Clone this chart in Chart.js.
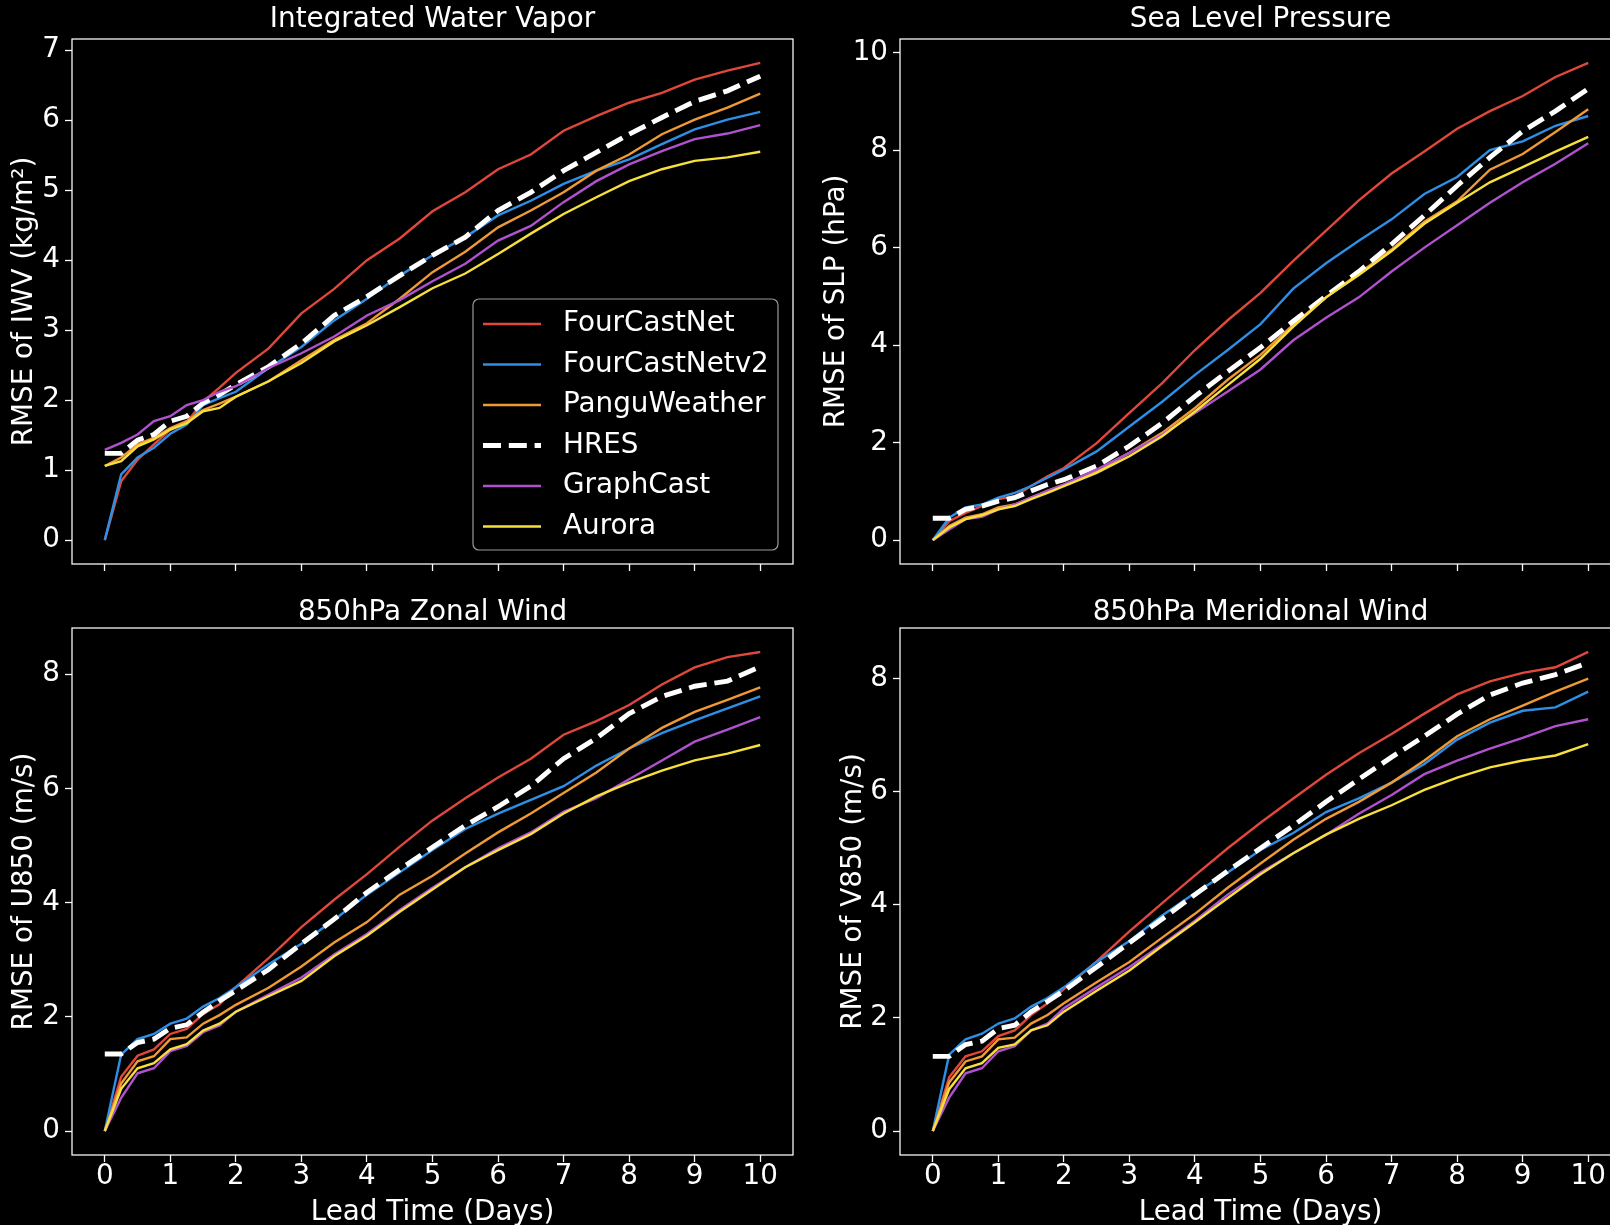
<!DOCTYPE html>
<html>
<head>
<meta charset="utf-8">
<title>RMSE vs lead time</title>
<script src="https://cdn.jsdelivr.net/npm/chart.js@4.4.1/dist/chart.umd.min.js"></script>
<style>
  html, body { margin: 0; padding: 0; background: #000; }
  body { width: 1610px; height: 1225px; position: relative; overflow: hidden; }
  canvas { position: absolute; }
</style>
</head>
<body>
<canvas id="iwv" width="805" height="600" style="left:0;top:0"></canvas>
<canvas id="slp" width="830" height="600" style="left:805px;top:0"></canvas>
<canvas id="u850" width="805" height="645" style="left:0;top:580px"></canvas>
<canvas id="v850" width="830" height="645" style="left:805px;top:580px"></canvas>
<script>
// lead time in days (6-hourly for the first two days, then 12-hourly)
const days = [0, 0.25, 0.5, 0.75, 1, 1.25, 1.5, 1.75, 2, 2.5, 3, 3.5, 4, 4.5, 5, 5.5, 6, 6.5, 7, 7.5, 8, 8.5, 9, 9.5, 10];
const models = ["FourCastNet", "FourCastNetv2", "PanguWeather", "HRES", "GraphCast", "Aurora"];
const modelColors = ["#e0483b", "#2d8fe6", "#f09a35", "#ffffff", "#b052cf", "#f7df3c"];
const xTicks = [0, 1, 2, 3, 4, 5, 6, 7, 8, 9, 10];
const iwvTicks = [0, 1, 2, 3, 4, 5, 6, 7];
const slpTicks = [0, 2, 4, 6, 8, 10];
const windTicks = [0, 2, 4, 6, 8];

// Integrated Water Vapor (kg/m2)
const iwvFcn   = [0, 0.84, 1.15, 1.37, 1.58, 1.68, 1.98, 2.18, 2.39, 2.74, 3.24, 3.59, 4.00, 4.31, 4.70, 4.97, 5.30, 5.51, 5.85, 6.06, 6.25, 6.39, 6.58, 6.71, 6.82];
const iwvFcn2  = [0, 0.94, 1.18, 1.32, 1.52, 1.65, 1.93, 2.03, 2.12, 2.46, 2.76, 3.14, 3.45, 3.78, 4.07, 4.33, 4.64, 4.85, 5.09, 5.28, 5.44, 5.66, 5.87, 6.01, 6.12];
const iwvPangu = [1.06, 1.18, 1.37, 1.46, 1.60, 1.70, 1.86, 1.95, 2.05, 2.27, 2.57, 2.86, 3.10, 3.45, 3.83, 4.12, 4.47, 4.71, 4.97, 5.28, 5.51, 5.80, 6.01, 6.18, 6.38];
const iwvHres  = [1.24, 1.24, 1.43, 1.51, 1.70, 1.77, 1.96, 2.08, 2.22, 2.48, 2.81, 3.21, 3.48, 3.78, 4.07, 4.33, 4.71, 4.97, 5.28, 5.54, 5.80, 6.04, 6.27, 6.42, 6.63];
const iwvGc    = [1.29, 1.39, 1.51, 1.70, 1.77, 1.93, 2.00, 2.12, 2.20, 2.46, 2.67, 2.91, 3.21, 3.43, 3.70, 3.95, 4.28, 4.49, 4.83, 5.13, 5.37, 5.56, 5.73, 5.81, 5.93];
const iwvAur   = [1.06, 1.13, 1.34, 1.44, 1.58, 1.67, 1.84, 1.89, 2.05, 2.27, 2.53, 2.84, 3.07, 3.33, 3.60, 3.81, 4.09, 4.38, 4.66, 4.90, 5.13, 5.30, 5.42, 5.47, 5.55];

// Sea Level Pressure (hPa)
const slpFcn   = [0, 0.39, 0.56, 0.70, 0.84, 0.90, 1.11, 1.31, 1.48, 1.99, 2.61, 3.22, 3.90, 4.51, 5.07, 5.73, 6.35, 6.97, 7.52, 7.97, 8.44, 8.80, 9.11, 9.50, 9.79];
const slpFcn2  = [0, 0.46, 0.67, 0.73, 0.87, 0.97, 1.11, 1.28, 1.45, 1.82, 2.33, 2.84, 3.39, 3.90, 4.43, 5.16, 5.68, 6.14, 6.58, 7.10, 7.45, 8.00, 8.18, 8.50, 8.70];
const slpPangu = [0, 0.29, 0.46, 0.53, 0.67, 0.73, 0.87, 1.01, 1.14, 1.41, 1.79, 2.20, 2.71, 3.29, 3.80, 4.42, 4.98, 5.47, 5.96, 6.53, 6.95, 7.60, 7.92, 8.37, 8.84];
const slpHres  = [0.45, 0.45, 0.63, 0.70, 0.80, 0.87, 1.01, 1.14, 1.24, 1.52, 1.93, 2.40, 2.95, 3.46, 3.95, 4.49, 5.01, 5.51, 6.07, 6.66, 7.27, 7.85, 8.39, 8.80, 9.26];
const slpGc    = [0, 0.22, 0.43, 0.48, 0.63, 0.73, 0.87, 1.01, 1.14, 1.45, 1.79, 2.16, 2.61, 3.05, 3.50, 4.10, 4.56, 4.98, 5.51, 6.00, 6.46, 6.92, 7.34, 7.72, 8.14];
const slpAur   = [0, 0.26, 0.43, 0.51, 0.63, 0.70, 0.84, 0.97, 1.11, 1.38, 1.72, 2.13, 2.64, 3.18, 3.72, 4.38, 4.98, 5.44, 5.93, 6.49, 6.92, 7.34, 7.65, 7.97, 8.27];

// 850hPa zonal wind (m/s)
const u850Fcn   = [0, 0.95, 1.32, 1.43, 1.70, 1.79, 2.05, 2.22, 2.52, 3.03, 3.57, 4.05, 4.50, 4.98, 5.44, 5.83, 6.19, 6.52, 6.94, 7.18, 7.46, 7.82, 8.12, 8.30, 8.39];
const u850Fcn2  = [0, 1.34, 1.61, 1.70, 1.88, 1.97, 2.18, 2.33, 2.52, 2.92, 3.28, 3.70, 4.14, 4.53, 4.92, 5.29, 5.56, 5.80, 6.04, 6.40, 6.70, 6.97, 7.19, 7.40, 7.61];
const u850Pangu = [0, 0.83, 1.22, 1.31, 1.61, 1.64, 1.88, 2.03, 2.21, 2.51, 2.88, 3.30, 3.66, 4.14, 4.47, 4.86, 5.23, 5.56, 5.92, 6.28, 6.70, 7.06, 7.34, 7.55, 7.77];
const u850Hres  = [1.35, 1.35, 1.55, 1.61, 1.80, 1.86, 2.08, 2.28, 2.46, 2.83, 3.28, 3.71, 4.18, 4.58, 4.97, 5.35, 5.68, 6.04, 6.52, 6.88, 7.31, 7.61, 7.79, 7.88, 8.13];
const u850Gc    = [0, 0.58, 1.01, 1.10, 1.40, 1.49, 1.73, 1.85, 2.09, 2.39, 2.69, 3.09, 3.45, 3.87, 4.26, 4.62, 4.95, 5.23, 5.59, 5.83, 6.16, 6.49, 6.82, 7.03, 7.25];
const u850Aur   = [0, 0.74, 1.10, 1.19, 1.43, 1.52, 1.76, 1.88, 2.09, 2.36, 2.63, 3.06, 3.42, 3.84, 4.23, 4.62, 4.92, 5.20, 5.56, 5.86, 6.10, 6.31, 6.49, 6.61, 6.76];

// 850hPa meridional wind (m/s)
const v850Fcn   = [0, 0.95, 1.32, 1.41, 1.68, 1.78, 2.05, 2.26, 2.51, 3.00, 3.53, 4.03, 4.52, 5.00, 5.45, 5.88, 6.30, 6.68, 7.02, 7.38, 7.72, 7.95, 8.10, 8.20, 8.47];
const v850Fcn2  = [0, 1.35, 1.62, 1.72, 1.90, 1.99, 2.20, 2.35, 2.54, 2.99, 3.36, 3.81, 4.21, 4.57, 4.97, 5.27, 5.64, 5.88, 6.16, 6.49, 6.92, 7.22, 7.43, 7.49, 7.77];
const v850Pangu = [0, 0.86, 1.23, 1.32, 1.62, 1.65, 1.90, 2.05, 2.26, 2.63, 2.99, 3.42, 3.84, 4.30, 4.73, 5.15, 5.52, 5.82, 6.16, 6.55, 6.98, 7.28, 7.52, 7.77, 8.00];
const v850Hres  = [1.32, 1.32, 1.53, 1.59, 1.81, 1.87, 2.11, 2.29, 2.48, 2.90, 3.33, 3.75, 4.18, 4.60, 5.00, 5.40, 5.82, 6.22, 6.61, 6.98, 7.37, 7.71, 7.92, 8.07, 8.28];
const v850Gc    = [0, 0.59, 1.02, 1.11, 1.41, 1.50, 1.78, 1.90, 2.17, 2.54, 2.90, 3.30, 3.72, 4.18, 4.57, 4.91, 5.24, 5.61, 5.94, 6.31, 6.55, 6.76, 6.95, 7.16, 7.28];
const v850Aur   = [0, 0.74, 1.11, 1.20, 1.47, 1.53, 1.78, 1.87, 2.11, 2.48, 2.84, 3.27, 3.69, 4.12, 4.54, 4.91, 5.24, 5.52, 5.76, 6.03, 6.25, 6.43, 6.55, 6.64, 6.84];

const FG = "#ffffff";
const FAMILY = "'DejaVu Sans', sans-serif";
const FONT_PX = 27.8;
const font = { family: FAMILY, size: FONT_PX, lineHeight: 1.2 };

// matplotlib-ish legend box, drawn inside the chart area
function drawLegend(chart, box) {
    const ctx = chart.ctx;
    ctx.beginPath();
    ctx.roundRect(box.x, box.y, box.w, box.h, 6);
    ctx.fillStyle = "rgba(0,0,0,0.8)";
    ctx.fill();
    ctx.strokeStyle = "#9a9a9a";
    ctx.lineWidth = 1.2;
    ctx.stroke();

    ctx.font = `${FONT_PX}px ${FAMILY}`;
    ctx.textAlign = "left";
    ctx.textBaseline = "middle";
    chart.data.datasets.forEach((ds, i) => {
        const y = box.y + 25 + i * 40.5;
        ctx.beginPath();
        ctx.setLineDash(ds.borderDash);
        ctx.lineWidth = ds.borderWidth;
        ctx.strokeStyle = ds.borderColor;
        ctx.moveTo(box.x + 10, y);
        ctx.lineTo(box.x + 68, y);
        ctx.stroke();
        ctx.setLineDash([]);
        ctx.fillStyle = FG;
        ctx.fillText(ds.label, box.x + 90, y);
    });
}

// axes frame, panel title and (optional) legend
const panelPlugin = {
    id: "panel",
    afterDraw(chart, args, opts) {
        const ctx = chart.ctx;
        const a = chart.chartArea;
        ctx.save();
        ctx.strokeStyle = FG;
        ctx.lineWidth = 1.25;
        ctx.strokeRect(a.left, a.top, a.right - a.left, a.bottom - a.top);

        ctx.fillStyle = FG;
        ctx.font = `${FONT_PX}px ${FAMILY}`;
        ctx.textAlign = "center";
        ctx.textBaseline = "middle";
        ctx.fillText(opts.title, (a.left + a.right) / 2, a.top - opts.titleGap);

        if (opts.legend) drawLegend(chart, opts.legend);
        ctx.restore();
    }
};

function makeChart(id, spec) {
    const canvas = document.getElementById(id);
    const padLeft = spec.yTitleX - font.size * font.lineHeight / 2;
    const maxV = Math.max(...spec.rows.flat());

    const datasets = models.map((name, i) => ({
        label: name,
        data: days.map((d, j) => ({ x: d, y: spec.rows[i][j] })),
        borderColor: modelColors[i],
        borderWidth: name === "HRES" ? 4.9 : 2.4,
        borderDash: name === "HRES" ? [18, 7.8] : [],
        pointRadius: 0,
        tension: 0,
        fill: false,
        order: models.length - i
    }));

    return new Chart(canvas.getContext("2d"), {
        type: "line",
        data: { datasets: datasets },
        options: {
            responsive: false,
            animation: false,
            events: [],
            layout: {
                padding: {
                    left: padLeft,
                    right: canvas.width - spec.area.right,
                    top: spec.area.top,
                    bottom: 0
                }
            },
            scales: {
                x: {
                    type: "linear",
                    min: -0.5,
                    max: 10.5,
                    afterBuildTicks: axis => { axis.ticks = xTicks.map(v => ({ value: v })); },
                    afterFit: axis => { axis.height = canvas.height - spec.area.bottom; },
                    border: { display: false },
                    grid: { drawOnChartArea: false, drawTicks: true, tickLength: 7, tickWidth: 1.3, tickColor: FG },
                    ticks: { display: spec.showX, color: FG, font: font, padding: -2, maxRotation: 0, autoSkip: false },
                    title: {
                        display: spec.showX,
                        text: "Lead Time (Days)",
                        color: FG,
                        font: { family: FAMILY, size: FONT_PX, lineHeight: 0.9 },
                        padding: 0
                    }
                },
                y: {
                    type: "linear",
                    min: -0.05 * maxV,
                    max: 1.05 * maxV,
                    afterBuildTicks: axis => { axis.ticks = spec.yTicks.map(v => ({ value: v })); },
                    afterFit: axis => { axis.width = spec.area.left - padLeft; },
                    border: { display: false },
                    grid: { drawOnChartArea: false, drawTicks: true, tickLength: 7, tickWidth: 1.3, tickColor: FG },
                    ticks: { color: FG, font: font, padding: 5 },
                    title: { display: true, text: spec.yLabel, color: FG, font: font, padding: 0 }
                }
            },
            plugins: {
                legend: { display: false },
                tooltip: { enabled: false },
                panel: { title: spec.title, titleGap: spec.titleGap, legend: spec.legend }
            }
        },
        plugins: [panelPlugin]
    });
}

makeChart("iwv", {
    rows: [iwvFcn, iwvFcn2, iwvPangu, iwvHres, iwvGc, iwvAur],
    yTicks: iwvTicks,
    yLabel: "RMSE of IWV (kg/m²)",
    title: "Integrated Water Vapor",
    area: { left: 72, right: 793, top: 39, bottom: 564 },
    yTitleX: 25,
    titleGap: 19.5,
    showX: false,
    legend: { x: 473, y: 299, w: 305, h: 251 }
});

makeChart("slp", {
    rows: [slpFcn, slpFcn2, slpPangu, slpHres, slpGc, slpAur],
    yTicks: slpTicks,
    yLabel: "RMSE of SLP (hPa)",
    title: "Sea Level Pressure",
    area: { left: 95, right: 816, top: 39, bottom: 564 },
    yTitleX: 31.5,
    titleGap: 19.5,
    showX: false
});

makeChart("u850", {
    rows: [u850Fcn, u850Fcn2, u850Pangu, u850Hres, u850Gc, u850Aur],
    yTicks: windTicks,
    yLabel: "RMSE of U850 (m/s)",
    title: "850hPa Zonal Wind",
    area: { left: 72, right: 793, top: 48, bottom: 575 },
    yTitleX: 25,
    titleGap: 15.5,
    showX: true
});

makeChart("v850", {
    rows: [v850Fcn, v850Fcn2, v850Pangu, v850Hres, v850Gc, v850Aur],
    yTicks: windTicks,
    yLabel: "RMSE of V850 (m/s)",
    title: "850hPa Meridional Wind",
    area: { left: 95, right: 816, top: 48, bottom: 575 },
    yTitleX: 48.5,
    titleGap: 15.5,
    showX: true
});
</script>
</body>
</html>
